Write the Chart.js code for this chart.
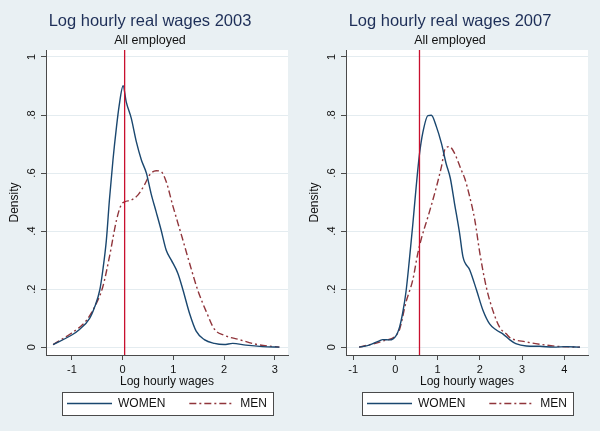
<!DOCTYPE html>
<html>
<head>
<meta charset="utf-8">
<title>Log hourly real wages</title>
<script src="https://cdn.jsdelivr.net/npm/chart.js@4.4.1/dist/chart.umd.min.js"></script>
<style>
  html, body { margin: 0; padding: 0; background: #e9f0f3; overflow: hidden; }
  #wrap { display: flex; width: 600px; height: 431px; }
  canvas { display: block; }
</style>
</head>
<body>
<div id="wrap">
  <canvas id="chart-2003" width="300" height="431"></canvas>
  <canvas id="chart-2007" width="300" height="431"></canvas>
</div>
<script>
// shared text and axes
var seriesNames = ["WOMEN", "MEN"];
var subtitleText = "All employed";
var xAxisTitle = "Log hourly wages";
var yAxisTitle = "Density";
var yTicks = [0, 0.2, 0.4, 0.6, 0.8, 1];
var yTickLabels = ["0", ".2", ".4", ".6", ".8", "1"];
var yRange = [-0.027, 1.024];

// 2003 panel
var title2003 = "Log hourly real wages 2003";
var xTicks2003 = [-1, 0, 1, 2, 3];
var xRange2003 = [-1.51, 3.26];
var vline2003 = 0.04;
var women2003X = [-1.37, -1.01, -0.85, -0.65, -0.55, -0.45, -0.39, -0.32, -0.26, -0.19, -0.12, -0.07, 0.01, 0.07, 0.17, 0.27, 0.37, 0.47, 0.56, 0.66, 0.76, 0.86, 0.96, 1.09, 1.19, 1.32, 1.45, 1.61, 1.81, 2.0, 2.17, 2.43, 2.76, 3.09];
var women2003Y = [0.009, 0.041, 0.061, 0.099, 0.139, 0.197, 0.265, 0.369, 0.507, 0.645, 0.76, 0.83, 0.901, 0.846, 0.789, 0.708, 0.645, 0.599, 0.53, 0.467, 0.403, 0.334, 0.3, 0.254, 0.197, 0.116, 0.055, 0.026, 0.013, 0.009, 0.013, 0.007, 0.002, 0.0];
var men2003X = [-1.37, -1.01, -0.71, -0.52, -0.39, -0.26, -0.12, -0.03, 0.04, 0.17, 0.30, 0.43, 0.53, 0.66, 0.76, 0.86, 0.99, 1.16, 1.32, 1.48, 1.65, 1.81, 2.0, 2.30, 2.63, 3.09];
var men2003Y = [0.009, 0.048, 0.093, 0.15, 0.208, 0.311, 0.438, 0.49, 0.501, 0.507, 0.524, 0.559, 0.593, 0.608, 0.605, 0.57, 0.487, 0.386, 0.289, 0.197, 0.122, 0.062, 0.041, 0.026, 0.010, 0.0];

// 2007 panel
var title2007 = "Log hourly real wages 2007";
var xTicks2007 = [-1, 0, 1, 2, 3, 4];
var xRange2007 = [-1.17, 4.56];
var vline2007 = 0.57;
var women2007X = [-0.86, -0.62, -0.38, -0.30, -0.14, 0.02, 0.10, 0.17, 0.25, 0.33, 0.41, 0.49, 0.57, 0.65, 0.77, 0.85, 0.97, 1.09, 1.20, 1.30, 1.40, 1.52, 1.60, 1.76, 1.92, 2.07, 2.23, 2.39, 2.55, 2.71, 2.85, 3.10, 3.42, 3.74, 4.05, 4.37];
var women2007Y = [0.0, 0.007, 0.022, 0.026, 0.025, 0.041, 0.07, 0.116, 0.19, 0.30, 0.42, 0.55, 0.665, 0.74, 0.798, 0.799, 0.76, 0.702, 0.633, 0.582, 0.495, 0.392, 0.311, 0.266, 0.197, 0.128, 0.08, 0.059, 0.045, 0.025, 0.012, 0.004, 0.003, 0.0, 0.002, 0.0];
var men2007X = [-0.86, -0.30, 0.02, 0.10, 0.25, 0.41, 0.53, 0.61, 0.77, 0.93, 1.09, 1.18, 1.28, 1.40, 1.56, 1.64, 1.76, 1.88, 2.0, 2.15, 2.31, 2.47, 2.63, 2.71, 3.10, 3.42, 3.82, 4.37];
var men2007Y = [0.0, 0.021, 0.041, 0.062, 0.155, 0.231, 0.323, 0.372, 0.449, 0.53, 0.622, 0.685, 0.691, 0.668, 0.61, 0.582, 0.518, 0.438, 0.323, 0.208, 0.125, 0.068, 0.045, 0.033, 0.018, 0.010, 0.003, 0.0];

var BG = "#e9f0f3";
var GRID = "#e4ecf0";
var AXIS = "#4a4a4a";
var NAVY = "#1a476f";
var MAROON = "#90353b";
var RED = "#c8102e";
var TITLE = "#1e2f58";
var TEXT = "#111111";

Chart.defaults.font.family = "'Liberation Sans', Arial, Helvetica, sans-serif";
Chart.defaults.color = TEXT;

function toPoints(xs, ys) {
  return xs.map(function (x, i) { return { x: x, y: ys[i] }; });
}

// legend samples: take the dash and width from the line, not from the points
function legendLabels(chart) {
  var items = Chart.defaults.plugins.legend.labels.generateLabels(chart);
  items.forEach(function (item) {
    var ds = chart.data.datasets[item.datasetIndex];
    item.lineDash = ds.borderDash || [];
    item.lineWidth = ds.borderWidth;
    item.strokeStyle = ds.borderColor;
  });
  return items;
}

// stata-ish frame: page colour, white plot region, boxed legend under the plot
var panelPlugin = {
  id: "panel",
  afterInit: function (chart) {
    var legend = chart.legend;
    var fit = legend.fit;
    legend.fit = function () {
      fit.call(this);
      this.height = 42;
    };
  },
  afterLayout: function (chart) {
    // centre the legend under the plot region, not the canvas
    var legend = chart.legend;
    var area = chart.chartArea;
    legend.left = area.left - 30;
    legend.right = area.right + 30;
    legend.width = legend.right - legend.left;
    legend.top = 373.5;
    legend.bottom = legend.top + 42;
  },
  beforeDraw: function (chart) {
    var ctx = chart.ctx;
    var a = chart.chartArea;
    ctx.save();
    ctx.fillStyle = BG;
    ctx.fillRect(0, 0, chart.width, chart.height);
    ctx.fillStyle = "#ffffff";
    ctx.fillRect(a.left, a.top, a.right - a.left, a.bottom - a.top);

    var boxes = chart.legend.legendHitBoxes;
    if (boxes && boxes.length) {
      var l = Infinity, r = -Infinity, t = boxes[0].top, h = boxes[0].height;
      boxes.forEach(function (b) {
        l = Math.min(l, b.left);
        r = Math.max(r, b.left + b.width);
      });
      var x0 = Math.round(l - 5) + 0.5;
      var x1 = Math.round(r + 6) + 0.5;
      var y0 = Math.round(t - 5.5) + 0.5;
      var y1 = Math.round(t + h + 5.5) + 0.5;
      ctx.fillStyle = "#ffffff";
      ctx.fillRect(x0, y0, x1 - x0, y1 - y0);
      ctx.strokeStyle = AXIS;
      ctx.lineWidth = 1;
      ctx.strokeRect(x0, y0, x1 - x0, y1 - y0);
    }
    ctx.restore();
  }
};

function makePanel(canvasId, titleText, xRange, xTicks, vline, wx, wy, mx, my) {
  return new Chart(document.getElementById(canvasId), {
    type: "line",
    data: {
      datasets: [
        {
          label: seriesNames[0],
          data: toPoints(wx, wy),
          borderColor: NAVY,
          borderWidth: 1.4,
          pointRadius: 0,
          fill: false,
          cubicInterpolationMode: "monotone"
        },
        {
          label: seriesNames[1],
          data: toPoints(mx, my),
          borderColor: MAROON,
          borderWidth: 1.4,
          borderDash: [7, 3, 2, 3],
          pointRadius: 0,
          fill: false,
          cubicInterpolationMode: "monotone"
        },
        {
          label: "",
          data: [{ x: vline, y: yRange[0] }, { x: vline, y: yRange[1] }],
          borderColor: RED,
          borderWidth: 1.3,
          pointRadius: 0,
          fill: false,
          order: -1
        }
      ]
    },
    options: {
      responsive: false,
      animation: false,
      events: [],
      layout: { padding: 0 },
      scales: {
        x: {
          type: "linear",
          min: xRange[0],
          max: xRange[1],
          afterBuildTicks: function (s) {
            s.ticks = xTicks.map(function (v) { return { value: v }; });
          },
          afterFit: function (s) { s.height = 34; },
          ticks: {
            autoSkip: false,
            maxRotation: 0,
            padding: 3,
            font: { size: 11 },
            color: TEXT,
            callback: function (v) { return String(v); }
          },
          grid: { drawOnChartArea: false, tickLength: 5, tickColor: AXIS },
          border: { color: AXIS, width: 1 },
          title: { display: true, text: xAxisTitle, font: { size: 12 }, color: TEXT, padding: 0 }
        },
        y: {
          type: "linear",
          min: yRange[0],
          max: yRange[1],
          afterBuildTicks: function (s) {
            s.ticks = yTicks.map(function (v) { return { value: v }; });
          },
          afterFit: function (s) { s.width = 46; },
          ticks: {
            minRotation: 90,
            maxRotation: 90,
            crossAlign: "center",
            padding: 4,
            font: { size: 11 },
            color: TEXT,
            callback: function (v) {
              var i = yTicks.indexOf(v);
              return i >= 0 ? yTickLabels[i] : "";
            }
          },
          grid: { color: GRID, tickLength: 5, tickColor: AXIS },
          border: { color: AXIS, width: 1 },
          title: { display: true, text: yAxisTitle, font: { size: 12 }, color: TEXT, padding: { top: 7, bottom: 0 } }
        },
        y2: {
          type: "linear",
          position: "right",
          display: true,
          ticks: { display: false },
          grid: { display: false },
          border: { display: false },
          afterFit: function (s) { s.width = 12; }
        }
      },
      plugins: {
        title: {
          display: true,
          text: titleText,
          color: TITLE,
          font: { size: 16.5, weight: "normal" },
          padding: { top: 12, bottom: 1.7 }
        },
        subtitle: {
          display: true,
          text: subtitleText,
          color: TEXT,
          font: { size: 12.5, weight: "normal" },
          padding: { top: 0, bottom: 1.5 }
        },
        legend: {
          position: "bottom",
          labels: {
            usePointStyle: true,
            pointStyle: "line",
            pointStyleWidth: 45,
            padding: 24,
            color: TEXT,
            font: { size: 12 },
            generateLabels: legendLabels,
            filter: function (item) { return item.datasetIndex !== 2; }
          }
        },
        tooltip: { enabled: false }
      }
    },
    plugins: [panelPlugin]
  });
}

makePanel("chart-2003", title2003, xRange2003, xTicks2003, vline2003, women2003X, women2003Y, men2003X, men2003Y);
makePanel("chart-2007", title2007, xRange2007, xTicks2007, vline2007, women2007X, women2007Y, men2007X, men2007Y);
</script>
</body>
</html>
